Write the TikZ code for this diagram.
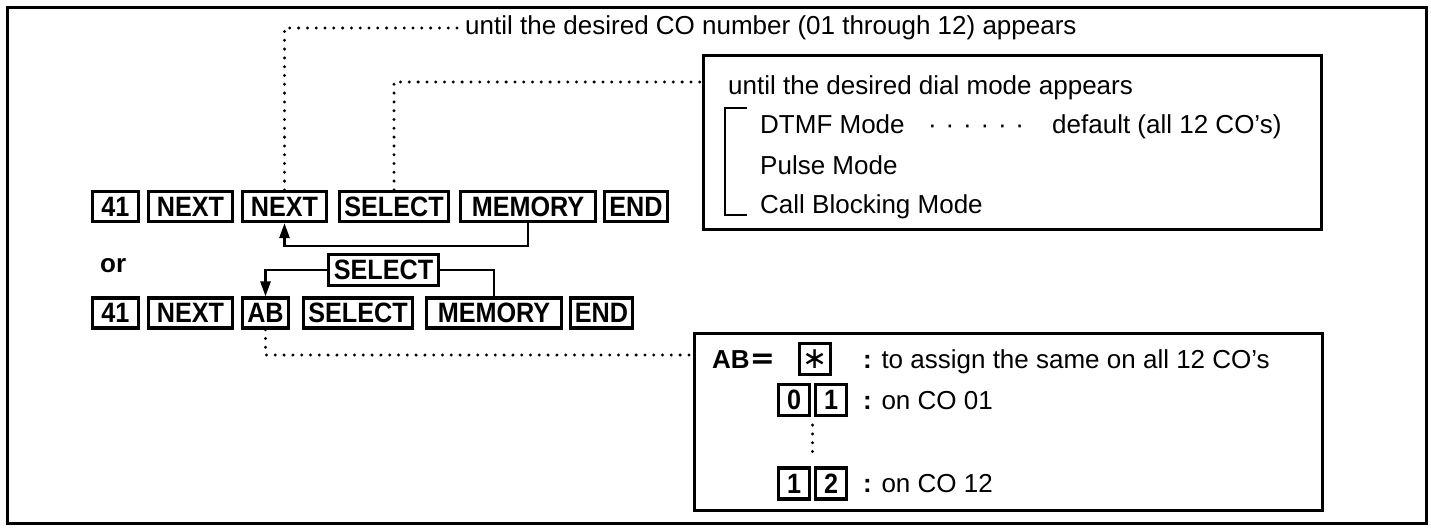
\documentclass[tikz,border=0pt]{standalone}
\usepackage{fontspec}
\setmainfont{Liberation Sans}
\newfontfamily\keyfont[FakeStretch=0.9]{Liberation Sans}
\newfontfamily\symfont{DejaVu Sans}
\usetikzlibrary{arrows.meta,calc}
\newcommand{\leaderdots}{·\hskip8.8pt·\hskip8.8pt·\hskip8.8pt·\hskip8.8pt·\hskip8.8pt·}
\begin{document}
\begin{tikzpicture}[x=1pt,y=-1pt,
  key/.style={draw, line width=3.2pt, font=\fontsize{28}{28}\keyfont\bfseries, inner sep=0pt, minimum height=30pt},
  smallkey/.style={draw, line width=3.2pt, font=\fontsize{28}{28}\keyfont\bfseries, inner sep=0pt, minimum height=31pt, minimum width=31pt},
  txt/.style={font=\fontsize{26}{26}\selectfont, inner sep=0pt, anchor=base west},
  btxt/.style={font=\fontsize{26}{26}\selectfont\bfseries, inner sep=0pt, anchor=base west},
  panel/.style={draw, line width=2.6pt, inner sep=0pt, anchor=north west},
  dots/.style={line width=3.3pt, line cap=round, dash pattern=on 0pt off 8.8pt},
  conn/.style={line width=2.6pt},
  arr/.style={conn, -{Triangle[length=15pt,width=10pt]}},
  outer/.style={draw, line width=3pt, inner sep=0pt, anchor=north west}]
\useasboundingbox (0,0) rectangle (1431,528);
\node[outer, minimum width=1419pt, minimum height=516pt] (frame) at (6,6) {};

% row 1
\node[key, minimum width=46pt]  (a41)   at (115.5,206.5) {41};
\node[key, minimum width=84pt]  (anx1)  at (190.5,206.5) {NEXT};
\node[key, minimum width=84pt]  (anx2)  at (284.5,206.5) {NEXT};
\node[key, minimum width=109pt] (asel)  at (394,206.5)   {SELECT};
\node[key, minimum width=135pt] (amem)  at (528,206.5)   {MEMORY};
\node[key, minimum width=63pt]  (aend)  at (636,206.5)   {END};

\node[btxt] (or) at (100,272) {or};

% middle SELECT
\node[key, minimum width=110pt, minimum height=31pt] (msel) at (383.5,270) {SELECT};

% row 2
\node[key, minimum width=46pt]  (b41)   at (115.5,313) {41};
\node[key, minimum width=84pt]  (bnx)   at (190.5,313) {NEXT};
\node[key, minimum width=46pt]  (bab)   at (265.5,313) {AB};
\node[key, minimum width=109pt] (bsel)  at (358,313)   {SELECT};
\node[key, minimum width=135pt] (bmem)  at (494,313)   {MEMORY};
\node[key, minimum width=62pt]  (bend)  at (601.5,313) {END};

% connectors
\draw[arr] (amem.south) -- ++(0,23) -| (anx2.south);
\draw[arr] (msel.west) -| (bab.north);
\draw[conn] (msel.east) -| (bmem.north);

% top text
\node[txt, anchor=west] (cotext) at (465,28) {until the desired CO number (01 through 12) appears};
\draw[dots] (anx2.north) |- (cotext.west);

% dial mode panel
\node[panel, minimum width=618pt, minimum height=174pt] (dial) at (702,54) {};
\draw[dots] (asel.north) |- ($(dial.north west)+(0,28)$);
\node[txt] (d0) at (728,94)  {until the desired dial mode appears};
\node[txt] (d1) at (760,133) {DTMF Mode};
\node[txt] (d1d) at (928,133) {\leaderdots};
\node[txt] (d1b) at (1052,133) {default (all 12 CO’s)};
\node[txt] (d2) at (760,174) {Pulse Mode};
\node[txt] (d3) at (760,213) {Call Blocking Mode};
\draw[line width=2.4pt] (747,108) -- (725,108) -- (725,215) -- (747,215);

% AB panel
\node[panel, minimum width=628pt, minimum height=177pt] (abp) at (693,332) {};
\draw[dots] (bab.south) |- ($(abp.north west)+(0,23)$);
\node[btxt] (abeq) at (712,368) {AB{\fontsize{30}{30}\symfont =}};
\node[smallkey] (kst) at (815,359) {\fontsize{30}{30}\symfont\mdseries\raisebox{-1pt}{∗}};
\node[txt] (t1) at (863,368) {\textbf{:} to assign the same on all 12 CO’s};
\node[smallkey] (k0) at (794,400) {0};
\node[smallkey] (k1) at (831,400) {1};
\node[txt] (t2) at (863,409) {\textbf{:} on CO 01};
\node[smallkey] (k1b) at (794,483.5) {1};
\node[smallkey] (k2b) at (831,483.5) {2};
\node[txt] (t3) at (863,492) {\textbf{:} on CO 12};
\draw[dots] ($(k0.south east)!0.5!(k1.south west)+(0,8)$) -- ($(k1b.north east)!0.5!(k2b.north west)+(0,-8)$);
\end{tikzpicture}
\end{document}
